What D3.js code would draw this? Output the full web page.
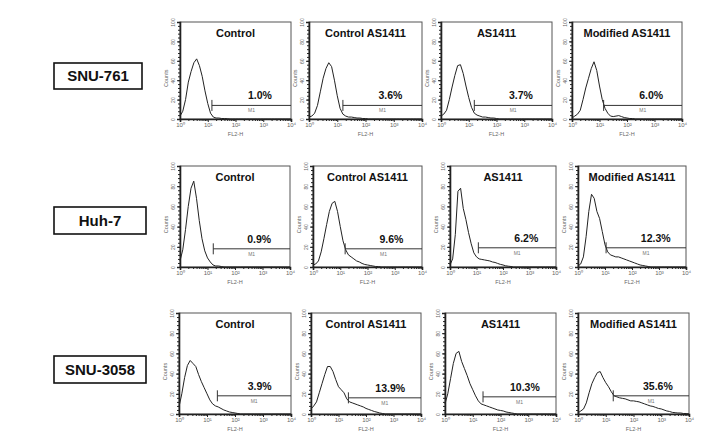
<!DOCTYPE html>
<html><head><meta charset="utf-8">
<script src="https://cdn.jsdelivr.net/npm/d3@7"></script>
<style>body{margin:0;background:#fff} svg{display:block}</style>
</head><body>
<svg id="c" width="704" height="433"></svg>
<script>
// ---------------- DATA ----------------
const cellLines = ["SNU-761", "Huh-7", "SNU-3058"];
const treatments = ["Control", "Control AS1411", "AS1411", "Modified AS1411"];
// x grid in log10(FL2-H) units
const fl2LogGrid = [0,0.1,0.2,0.3,0.4,0.5,0.6,0.7,0.8,0.9,1,1.1,1.2,1.3,1.4,1.5,1.6,1.7,1.8,1.9,2,2.1,2.2,2.3,2.4,2.5,2.6,2.7,2.8,2.9,3,3.1,3.2,3.3,3.4,3.5,3.6,3.7,3.8,3.9,4];
// counts per panel
const snu761Control      = [3,8,20,38,49,58,62,55,44,29,16,6,2,1,1,0.5,0.5,0.3,0,0,0,0,0,0,0,0,0,0,0,0,0,0,0,0,0,0,0,0,0,0,0];
const snu761CtrlAS1411   = [2,3,6,14,28,42,52,58,54,40,24,11,5,3,2,2,1.5,1,1,0.5,0.5,0,0,0,0,0,0,0,0,0,0,0,0,0,0,0,0,0,0,0,0];
const snu761AS1411       = [3,5,9,20,33,45,55,56,47,34,22,12,6,4,3,2,2,1.5,1,1,0.5,0,0,0,0,0,0,0,0,0,0,0,0,0,0,0,0,0,0,0,0];
const snu761ModAS1411    = [1,3,5,9,20,32,42,52,59,50,34,20,11,6,3,2.5,3,3.5,2.5,1.5,1,0.5,0.5,0,0,0,0,0,0,0,0,0,0,0,0,0,0,0,0,0,0];
const huh7Control        = [6,17,37,60,78,85,68,46,28,16,9,5,2,1,1,0.5,0,0,0,0,0,0,0,0,0,0,0,0,0,0,0,0,0,0,0,0,0,0,0,0,0];
const huh7CtrlAS1411     = [2,3,6,15,28,42,55,63,65,55,40,26,17,12,10,8,6,5,3.5,2.5,2,1.5,1,0.5,0.5,0,0,0,0,0,0,0,0,0,0,0,0,0,0,0,0];
const huh7AS1411         = [2,8,32,75,78,58,47,34,23,14,10,8,7.5,7,6.5,6,5,4.5,3.5,2.6,2,1.2,0.8,0.5,0,0,0,0,0,0,0,0,0,0,0,0,0,0,0,0,0];
const huh7ModAS1411      = [1,3,10,30,55,72,68,55,48,35,22,15,12,11,10,10,9,8,7,6,5,4,3,2,1.5,1,0.5,0,0,0,0,0,0,0,0,0,0,0,0,0,0];
const snu3058Control     = [7,20,36,48,53,50,47,39,32,26,20,14,10,8,7,5.5,4,3,2,1.5,1,0.5,0,0,0,0,0,0,0,0,0,0,0,0,0,0,0,0,0,0,0];
const snu3058CtrlAS1411  = [5,8,12,21,30,39,47,47,42,34,27,24,21,15,12,11,10,9,8,7,5.5,4.5,3.5,2.5,1.8,1,0.5,0,0,0,0,0,0,0,0,0,0,0,0,0,0];
const snu3058AS1411      = [10,20,35,50,60,62,52,45,38,30,24,18,13,10,9,8,7,6,5,4,3.5,3,2,1.5,1,0.5,0,0,0,0,0,0,0,0,0,0,0,0,0,0,0];
const snu3058ModAS1411   = [1,3,5,11,21,30,36,41,42,36,31,27,22,18,17,16,15.5,15,14,13,13,12.5,12,11,10,9,8,7.5,6.5,5.5,5,4,3,2.5,1.6,1.3,1,1,0.5,0.5,0];
// M1 gate: percentage, start (log10 FL2-H), level (counts)
const m1Percent = [["1.0%","3.6%","3.7%","6.0%"],["0.9%","9.6%","6.2%","12.3%"],["3.9%","13.9%","10.3%","35.6%"]];
const m1GateStart = [[1.15,1.2,1.2,1.15],[1.21,1.18,1.07,1.04],[1.37,1.36,1.37,1.27]];
const m1GateLevel = [[14,14,14,14],[18,18,19,19],[18,16,17,18]];
const yTickValues = [0,20,40,60,80,100];
const xTickValues = [1,10,100,1000,10000];
const xTickLabels = ["10\u2070","10\u00b9","10\u00b2","10\u00b3","10\u2074"];

const panelCounts = [
  [snu761Control, snu761CtrlAS1411, snu761AS1411, snu761ModAS1411],
  [huh7Control, huh7CtrlAS1411, huh7AS1411, huh7ModAS1411],
  [snu3058Control, snu3058CtrlAS1411, snu3058AS1411, snu3058ModAS1411]
];

// ---------------- LAYOUT ----------------
const rowY = [[22,119],[166,267],[313,414]];
const colX = [
  [[180,291],[309,422],[441,552],[572,682]],
  [[180,290],[313,422],[450,556],[578,686]],
  [[179,291],[311,421],[445,556],[578,689]]
];
const labelBox = [[54,63,142,89],[54,207,146,234],[54,356,146,383]];

const svg = d3.select("#c");
svg.append("rect").attr("width",704).attr("height",433).attr("fill","#fff");

const tickFont = "'Liberation Sans', Arial, sans-serif";
const minorY = d3.range(0,101,4);
const minorX = [];
[1,10,100,1000].forEach(dec => [2,3,4,5,6,7,8,9].forEach(m => minorX.push(dec*m)));

cellLines.forEach((cl, r) => {
  const [bx0,by0,bx1,by1] = labelBox[r];
  svg.append("rect").attr("x",bx0).attr("y",by0).attr("width",bx1-bx0).attr("height",by1-by0)
    .attr("fill","#fff").attr("stroke","#111").attr("stroke-width",1.6);
  svg.append("text").attr("x",(bx0+bx1)/2).attr("y",(by0+by1)/2+5.3)
    .attr("text-anchor","middle").attr("font-family","'Liberation Sans', Arial, sans-serif")
    .attr("font-weight","bold").attr("font-size",15).attr("fill","#111").text(cl);

  treatments.forEach((tr, c) => {
    const [x0,x1] = colX[r][c];
    const [y0,y1] = rowY[r];
    const g = svg.append("g");
    const x = d3.scaleLog().domain([1,1e4]).range([x0,x1]);
    const y = d3.scaleLinear().domain([0,100]).range([y1,y0]);

    // frame
    g.append("rect").attr("x",x0).attr("y",y0).attr("width",x1-x0).attr("height",y1-y0)
      .attr("fill","none").attr("stroke","#555").attr("stroke-width",1);

    // y axis minor ticks
    const ym = g.append("g").attr("transform",`translate(${x0},0)`)
      .call(d3.axisLeft(y).tickValues(minorY).tickSize(2).tickFormat(""));
    ym.select(".domain").remove();
    ym.selectAll("line").attr("stroke","#222");
    // y axis major
    const ya = g.append("g").attr("transform",`translate(${x0},0)`)
      .call(d3.axisLeft(y).tickValues(yTickValues).tickSize(3).tickFormat(d3.format("d")));
    ya.select(".domain").attr("stroke","#222").attr("stroke-width",1.6);
    ya.selectAll("line").attr("stroke","#222");
    ya.selectAll("text").attr("transform","rotate(-90)").attr("x",0).attr("y",-5).attr("dy",0)
      .attr("text-anchor","middle").attr("font-size",5).attr("fill","#666").attr("font-family",tickFont);

    // x axis minor
    const xm = g.append("g").attr("transform",`translate(0,${y1})`)
      .call(d3.axisBottom(x).tickValues(minorX).tickSize(2).tickFormat(""));
    xm.select(".domain").remove();
    xm.selectAll("line").attr("stroke","#222");
    const xa = g.append("g").attr("transform",`translate(0,${y1})`)
      .call(d3.axisBottom(x).tickValues(xTickValues).tickSize(3).tickFormat((d,i)=>xTickLabels[i]));
    xa.select(".domain").attr("stroke","#222").attr("stroke-width",1.6);
    xa.selectAll("line").attr("stroke","#222");
    xa.selectAll("text").attr("y",4).attr("dy","0.71em").attr("font-size",6).attr("fill","#666").attr("font-family",tickFont);

    // axis titles
    g.append("text").attr("transform",`translate(${x0-12},${y0+(y1-y0)*0.58}) rotate(-90)`)
      .attr("text-anchor","middle").attr("font-size",5.5).attr("fill","#666").attr("font-family",tickFont).text("Counts");
    g.append("text").attr("x",(x0+x1)/2).attr("y",y1+17)
      .attr("text-anchor","middle").attr("font-size",5.5).attr("fill","#666").attr("font-family",tickFont).text("FL2-H");

    // histogram
    const pts = fl2LogGrid.map((lg,i) => ({v: Math.pow(10,lg), c: panelCounts[r][c][i]}));
    g.append("path").datum(pts)
      .attr("d", d3.line().x(d=>x(d.v)).y(d=>y(d.c)))
      .attr("fill","none").attr("stroke","#222").attr("stroke-width",1);

    // M1 gate
    const gx = x(Math.pow(10, m1GateStart[r][c]));
    const gy = y(m1GateLevel[r][c]);
    g.append("line").attr("x1",gx).attr("x2",x1).attr("y1",gy).attr("y2",gy).attr("stroke","#333").attr("stroke-width",1);
    g.append("line").attr("x1",gx).attr("x2",gx).attr("y1",gy-5.5).attr("y2",gy+5.5).attr("stroke","#333").attr("stroke-width",1);
    g.append("text").attr("x",(gx+x1)/2).attr("y",gy+7)
      .attr("text-anchor","middle").attr("font-size",5).attr("fill","#777").attr("font-family",tickFont).text("M1");

    // percentage
    g.append("text").attr("x",x0+(x1-x0)*0.72).attr("y",gy-6)
      .attr("text-anchor","middle").attr("font-family","'Liberation Sans', Arial, sans-serif")
      .attr("font-weight","bold").attr("font-size",10.5).attr("fill","#111").text(m1Percent[r][c]);

    // title
    g.append("text").attr("x",(x0+x1)/2).attr("y",y0+15)
      .attr("text-anchor","middle").attr("font-family","'Liberation Sans', Arial, sans-serif")
      .attr("font-weight","bold").attr("font-size",11).attr("fill","#111").text(tr);
  });
});
</script>
</body></html>
